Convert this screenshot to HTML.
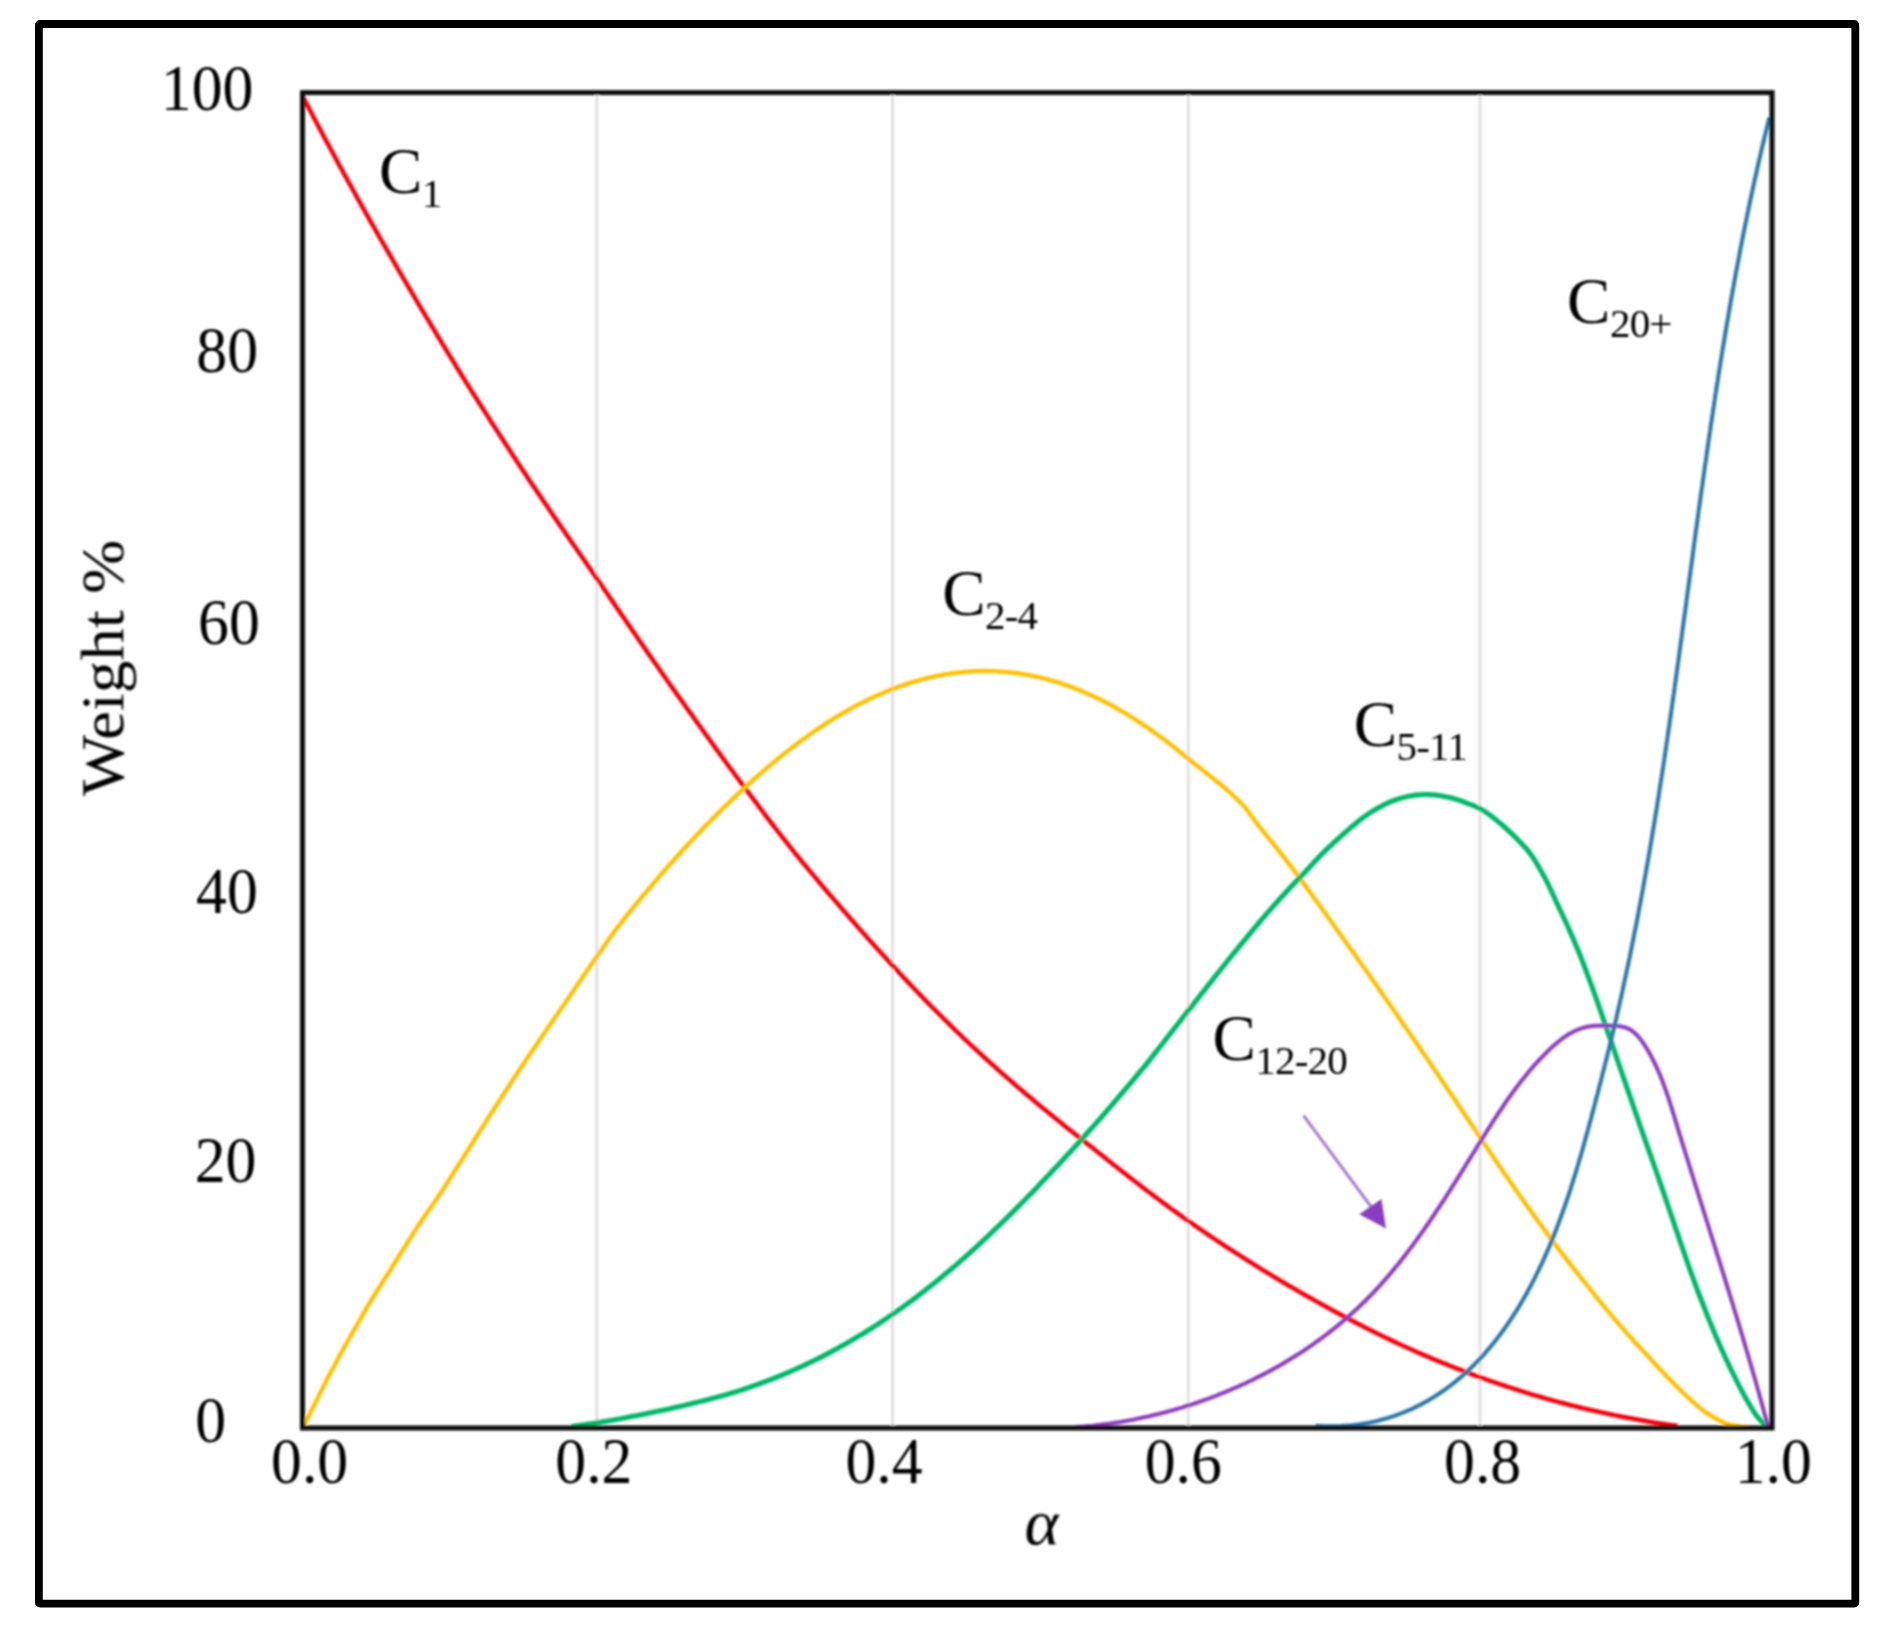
<!DOCTYPE html>
<html><head><meta charset="utf-8"><title>Weight % vs α</title>
<style>html,body{margin:0;padding:0;background:#fff}svg{display:block}</style></head>
<body>
<svg width="1891" height="1630" viewBox="0 0 1891 1630">
<defs><filter id="soft" x="0" y="0" width="1891" height="1630" filterUnits="userSpaceOnUse"><feGaussianBlur stdDeviation="0.8"/></filter></defs>
<rect x="0" y="0" width="1891" height="1630" fill="#fff"/>
<g filter="url(#soft)">
<line x1="596.8" y1="95" x2="596.8" y2="1426" stroke="#e0e0e0" stroke-width="3"/>
<line x1="892.6" y1="95" x2="892.6" y2="1426" stroke="#e0e0e0" stroke-width="3"/>
<line x1="1188.2" y1="95" x2="1188.2" y2="1426" stroke="#e0e0e0" stroke-width="3"/>
<line x1="1480.0" y1="95" x2="1480.0" y2="1426" stroke="#e0e0e0" stroke-width="3"/>
<path d="M302.5,96.0 L305.3,101.3 L308.0,106.5 L310.8,111.8 L313.5,117.0 L316.3,122.2 L319.0,127.4 L321.8,132.6 L324.5,137.8 L327.3,142.9 L330.1,148.0 L332.8,153.1 L335.6,158.2 L338.3,163.3 L341.1,168.3 L343.8,173.4 L346.6,178.4 L349.3,183.4 L352.1,188.4 L354.9,193.4 L357.6,198.4 L360.4,203.3 L363.1,208.2 L365.9,213.1 L368.6,218.0 L371.4,222.8 L374.1,227.7 L376.9,232.5 L379.7,237.3 L382.4,242.1 L385.2,246.9 L387.9,251.7 L390.7,256.4 L393.4,261.2 L396.2,265.9 L398.9,270.7 L401.7,275.4 L404.5,280.1 L407.2,284.8 L410.0,289.5 L412.7,294.1 L415.5,298.8 L418.2,303.5 L421.0,308.1 L423.7,312.7 L426.5,317.3 L429.3,321.9 L432.0,326.5 L434.8,331.1 L437.5,335.7 L440.3,340.2 L443.0,344.8 L445.8,349.3 L448.5,353.8 L451.3,358.3 L454.1,362.8 L456.8,367.3 L459.6,371.8 L462.3,376.2 L465.1,380.6 L467.8,385.0 L470.6,389.4 L473.3,393.8 L476.1,398.1 L478.9,402.5 L481.6,406.8 L484.4,411.1 L487.1,415.4 L489.9,419.7 L492.6,424.0 L495.4,428.3 L498.1,432.5 L500.9,436.8 L503.6,441.0 L506.4,445.2 L509.2,449.5 L511.9,453.7 L514.7,457.9 L517.4,462.1 L520.2,466.3 L522.9,470.4 L525.7,474.6 L528.4,478.7 L531.2,482.9 L534.0,487.0 L536.7,491.1 L539.5,495.1 L542.2,499.2 L545.0,503.3 L547.7,507.3 L550.5,511.3 L553.2,515.4 L556.0,519.4 L558.8,523.4 L561.5,527.4 L564.3,531.4 L567.0,535.4 L569.8,539.4 L572.5,543.4 L575.3,547.3 L578.0,551.3 L580.8,555.3 L583.6,559.3 L586.3,563.3 L589.1,567.3 L591.8,571.3 L594.6,575.3 L597.3,579.3 L600.1,583.3 L602.8,587.3 L605.6,591.3 L608.4,595.3 L611.1,599.4 L613.9,603.4 L616.6,607.4 L619.4,611.4 L622.1,615.4 L624.9,619.4 L627.6,623.4 L630.4,627.4 L633.2,631.5 L635.9,635.5 L638.7,639.4 L641.4,643.4 L644.2,647.4 L646.9,651.4 L649.7,655.4 L652.4,659.3 L655.2,663.3 L658.0,667.2 L660.7,671.2 L663.5,675.1 L666.2,679.0 L669.0,683.0 L671.7,686.9 L674.5,690.7 L677.2,694.6 L680.0,698.5 L682.8,702.4 L685.5,706.2 L688.3,710.1 L691.0,713.9 L693.8,717.8 L696.5,721.6 L699.3,725.5 L702.0,729.3 L704.8,733.1 L707.6,737.0 L710.3,740.8 L713.1,744.6 L715.8,748.4 L718.6,752.2 L721.3,756.0 L724.1,759.8 L726.8,763.5 L729.6,767.3 L732.4,771.0 L735.1,774.8 L737.9,778.5 L740.6,782.2 L743.4,785.8 L746.1,789.5 L748.9,793.2 L751.6,796.9 L754.4,800.5 L757.2,804.2 L759.9,807.8 L762.7,811.5 L765.4,815.1 L768.2,818.8 L770.9,822.4 L773.7,826.0 L776.4,829.5 L779.2,833.1 L782.0,836.6 L784.7,840.1 L787.5,843.6 L790.2,847.1 L793.0,850.5 L795.7,854.0 L798.5,857.3 L801.2,860.7 L804.0,864.0 L806.8,867.3 L809.5,870.6 L812.3,873.9 L815.0,877.2 L817.8,880.5 L820.5,883.7 L823.3,887.0 L826.0,890.2 L828.8,893.5 L831.6,896.7 L834.3,899.9 L837.1,903.1 L839.8,906.3 L842.6,909.5 L845.3,912.6 L848.1,915.8 L850.8,919.0 L853.6,922.1 L856.4,925.2 L859.1,928.4 L861.9,931.5 L864.6,934.6 L867.4,937.7 L870.1,940.8 L872.9,943.8 L875.6,946.9 L878.4,950.0 L881.2,953.0 L883.9,956.0 L886.7,959.1 L889.4,962.1 L892.2,965.1 L894.9,968.1 L897.7,971.1 L900.4,974.0 L903.2,977.0 L905.9,979.9 L908.7,982.9 L911.5,985.8 L914.2,988.7 L917.0,991.5 L919.7,994.4 L922.5,997.2 L925.2,1000.1 L928.0,1002.9 L930.7,1005.7 L933.5,1008.5 L936.3,1011.2 L939.0,1014.0 L941.8,1016.7 L944.5,1019.5 L947.3,1022.2 L950.0,1024.9 L952.8,1027.7 L955.5,1030.3 L958.3,1033.0 L961.1,1035.6 L963.8,1038.3 L966.6,1040.9 L969.3,1043.5 L972.1,1046.1 L974.8,1048.6 L977.6,1051.2 L980.3,1053.7 L983.1,1056.2 L985.9,1058.7 L988.6,1061.2 L991.4,1063.7 L994.1,1066.2 L996.9,1068.7 L999.6,1071.1 L1002.4,1073.6 L1005.1,1076.0 L1007.9,1078.4 L1010.7,1080.8 L1013.4,1083.2 L1016.2,1085.6 L1018.9,1088.0 L1021.7,1090.3 L1024.4,1092.7 L1027.2,1095.0 L1029.9,1097.3 L1032.7,1099.6 L1035.5,1101.9 L1038.2,1104.2 L1041.0,1106.5 L1043.7,1108.8 L1046.5,1111.1 L1049.2,1113.3 L1052.0,1115.6 L1054.7,1117.8 L1057.5,1120.1 L1060.3,1122.3 L1063.0,1124.5 L1065.8,1126.7 L1068.5,1128.9 L1071.3,1131.1 L1074.0,1133.3 L1076.8,1135.5 L1079.5,1137.6 L1082.3,1139.8 L1085.1,1142.0 L1087.8,1144.2 L1090.6,1146.3 L1093.3,1148.5 L1096.1,1150.7 L1098.8,1152.9 L1101.6,1155.1 L1104.3,1157.3 L1107.1,1159.5 L1109.9,1161.7 L1112.6,1163.9 L1115.4,1166.1 L1118.1,1168.3 L1120.9,1170.4 L1123.6,1172.6 L1126.4,1174.8 L1129.1,1176.9 L1131.9,1179.1 L1134.7,1181.2 L1137.4,1183.3 L1140.2,1185.4 L1142.9,1187.6 L1145.7,1189.7 L1148.4,1191.7 L1151.2,1193.8 L1153.9,1195.9 L1156.7,1198.0 L1159.5,1200.0 L1162.2,1202.1 L1165.0,1204.1 L1167.7,1206.1 L1170.5,1208.2 L1173.2,1210.2 L1176.0,1212.2 L1178.7,1214.1 L1181.5,1216.1 L1184.3,1218.1 L1187.0,1220.0 L1189.8,1222.0 L1192.5,1223.9 L1195.3,1225.8 L1198.0,1227.7 L1200.8,1229.6 L1203.5,1231.5 L1206.3,1233.4 L1209.1,1235.3 L1211.8,1237.1 L1214.6,1239.0 L1217.3,1240.8 L1220.1,1242.6 L1222.8,1244.5 L1225.6,1246.3 L1228.3,1248.1 L1231.1,1249.9 L1233.9,1251.7 L1236.6,1253.4 L1239.4,1255.2 L1242.1,1257.0 L1244.9,1258.7 L1247.6,1260.5 L1250.4,1262.2 L1253.1,1264.0 L1255.9,1265.7 L1258.7,1267.4 L1261.4,1269.1 L1264.2,1270.8 L1266.9,1272.5 L1269.7,1274.2 L1272.4,1275.9 L1275.2,1277.5 L1277.9,1279.2 L1280.7,1280.8 L1283.5,1282.5 L1286.2,1284.1 L1289.0,1285.7 L1291.7,1287.3 L1294.5,1288.9 L1297.2,1290.5 L1300.0,1292.1 L1302.7,1293.7 L1305.5,1295.2 L1308.2,1296.8 L1311.0,1298.3 L1313.8,1299.9 L1316.5,1301.4 L1319.3,1303.0 L1322.0,1304.5 L1324.8,1306.0 L1327.5,1307.5 L1330.3,1309.0 L1333.0,1310.5 L1335.8,1312.0 L1338.6,1313.5 L1341.3,1315.0 L1344.1,1316.5 L1346.8,1317.9 L1349.6,1319.4 L1352.3,1320.8 L1355.1,1322.3 L1357.8,1323.7 L1360.6,1325.1 L1363.4,1326.5 L1366.1,1327.9 L1368.9,1329.3 L1371.6,1330.7 L1374.4,1332.1 L1377.1,1333.5 L1379.9,1334.8 L1382.6,1336.2 L1385.4,1337.5 L1388.2,1338.8 L1390.9,1340.1 L1393.7,1341.4 L1396.4,1342.7 L1399.2,1344.0 L1401.9,1345.3 L1404.7,1346.5 L1407.4,1347.8 L1410.2,1349.0 L1413.0,1350.2 L1415.7,1351.5 L1418.5,1352.7 L1421.2,1353.9 L1424.0,1355.1 L1426.7,1356.2 L1429.5,1357.4 L1432.2,1358.6 L1435.0,1359.7 L1437.8,1360.9 L1440.5,1362.0 L1443.3,1363.1 L1446.0,1364.2 L1448.8,1365.3 L1451.5,1366.4 L1454.3,1367.5 L1457.0,1368.6 L1459.8,1369.7 L1462.6,1370.7 L1465.3,1371.8 L1468.1,1372.8 L1470.8,1373.8 L1473.6,1374.9 L1476.3,1375.9 L1479.1,1376.9 L1481.8,1377.9 L1484.6,1378.9 L1487.4,1379.8 L1490.1,1380.8 L1492.9,1381.8 L1495.6,1382.7 L1498.4,1383.7 L1501.1,1384.6 L1503.9,1385.5 L1506.6,1386.4 L1509.4,1387.3 L1512.2,1388.2 L1514.9,1389.1 L1517.7,1390.0 L1520.4,1390.9 L1523.2,1391.7 L1525.9,1392.6 L1528.7,1393.4 L1531.4,1394.3 L1534.2,1395.1 L1537.0,1395.9 L1539.7,1396.7 L1542.5,1397.5 L1545.2,1398.3 L1548.0,1399.1 L1550.7,1399.8 L1553.5,1400.6 L1556.2,1401.3 L1559.0,1402.1 L1561.8,1402.8 L1564.5,1403.5 L1567.3,1404.3 L1570.0,1405.0 L1572.8,1405.7 L1575.5,1406.3 L1578.3,1407.0 L1581.0,1407.7 L1583.8,1408.4 L1586.6,1409.0 L1589.3,1409.7 L1592.1,1410.3 L1594.8,1410.9 L1597.6,1411.5 L1600.3,1412.1 L1603.1,1412.8 L1605.8,1413.3 L1608.6,1413.9 L1611.4,1414.5 L1614.1,1415.1 L1616.9,1415.6 L1619.6,1416.2 L1622.4,1416.7 L1625.1,1417.2 L1627.9,1417.8 L1630.6,1418.3 L1633.4,1418.8 L1636.2,1419.3 L1638.9,1419.8 L1641.7,1420.3 L1644.4,1420.8 L1647.2,1421.3 L1649.9,1421.7 L1652.7,1422.2 L1655.4,1422.7 L1658.2,1423.1 L1661.0,1423.6 L1663.7,1424.0 L1666.5,1424.4 L1669.2,1424.8 L1672.0,1425.2 L1674.7,1425.6 L1677.5,1426.0" fill="none" stroke="#f5000a" stroke-width="4.5" stroke-linejoin="round" stroke-linecap="butt"/>
<path d="M302.5,1428.0 L305.4,1422.4 L308.3,1416.7 L311.2,1411.0 L314.1,1405.3 L317.0,1399.5 L319.9,1393.6 L322.8,1387.7 L325.7,1381.9 L328.6,1376.3 L331.5,1370.8 L334.4,1365.4 L337.3,1359.9 L340.2,1354.6 L343.1,1349.3 L346.0,1344.1 L348.9,1339.0 L351.8,1333.9 L354.7,1328.8 L357.6,1323.7 L360.5,1318.6 L363.4,1313.6 L366.3,1308.6 L369.2,1303.6 L372.1,1298.8 L375.0,1294.1 L377.9,1289.5 L380.8,1284.9 L383.7,1280.4 L386.6,1275.8 L389.5,1271.3 L392.4,1266.7 L395.3,1262.0 L398.2,1257.4 L401.1,1252.7 L404.0,1248.1 L406.9,1243.5 L409.8,1238.9 L412.7,1234.3 L415.6,1229.8 L418.5,1225.4 L421.4,1221.0 L424.3,1216.8 L427.2,1212.6 L430.1,1208.5 L433.0,1204.3 L435.9,1200.1 L438.8,1195.8 L441.7,1191.4 L444.6,1186.8 L447.5,1182.3 L450.4,1177.8 L453.3,1173.2 L456.2,1168.7 L459.1,1164.1 L462.0,1159.6 L464.9,1155.0 L467.8,1150.4 L470.7,1145.7 L473.6,1141.1 L476.5,1136.5 L479.4,1131.9 L482.3,1127.3 L485.2,1122.8 L488.1,1118.2 L491.0,1113.7 L493.9,1109.1 L496.8,1104.6 L499.7,1100.1 L502.6,1095.6 L505.5,1091.1 L508.4,1086.7 L511.3,1082.2 L514.2,1077.8 L517.1,1073.4 L520.0,1069.1 L522.9,1064.7 L525.8,1060.4 L528.7,1056.0 L531.6,1051.7 L534.5,1047.4 L537.4,1043.2 L540.3,1038.9 L543.2,1034.6 L546.1,1030.4 L549.0,1026.2 L551.9,1022.0 L554.8,1017.8 L557.7,1013.6 L560.6,1009.4 L563.5,1005.2 L566.4,1001.0 L569.3,996.7 L572.2,992.5 L575.1,988.2 L578.0,983.9 L580.9,979.6 L583.8,975.3 L586.7,971.1 L589.6,966.9 L592.5,962.7 L595.4,958.5 L598.3,954.4 L601.2,950.2 L604.1,946.1 L607.0,941.9 L609.9,937.8 L612.8,933.8 L615.7,929.8 L618.6,926.0 L621.5,922.3 L624.4,918.6 L627.3,914.9 L630.2,911.3 L633.1,907.7 L636.0,904.2 L638.9,900.7 L641.8,897.2 L644.7,893.7 L647.6,890.3 L650.5,886.8 L653.4,883.4 L656.3,880.1 L659.2,876.7 L662.1,873.4 L665.0,870.0 L667.9,866.7 L670.8,863.4 L673.7,860.2 L676.6,856.9 L679.5,853.7 L682.4,850.5 L685.3,847.3 L688.2,844.2 L691.1,841.1 L694.0,838.0 L696.9,834.9 L699.8,831.9 L702.7,828.8 L705.6,825.8 L708.5,822.9 L711.4,819.9 L714.3,817.0 L717.2,814.1 L720.1,811.2 L723.0,808.3 L725.9,805.5 L728.8,802.7 L731.7,799.9 L734.6,797.1 L737.5,794.4 L740.4,791.7 L743.3,788.9 L746.2,786.3 L749.1,783.6 L752.0,781.0 L754.9,778.4 L757.8,775.8 L760.7,773.3 L763.6,770.8 L766.5,768.3 L769.4,765.8 L772.3,763.4 L775.2,761.0 L778.1,758.6 L781.0,756.2 L783.9,753.9 L786.8,751.6 L789.7,749.4 L792.6,747.1 L795.5,744.9 L798.4,742.7 L801.3,740.6 L804.2,738.5 L807.1,736.4 L810.0,734.3 L812.9,732.3 L815.8,730.3 L818.7,728.4 L821.6,726.4 L824.5,724.5 L827.4,722.6 L830.3,720.8 L833.2,719.0 L836.1,717.2 L838.9,715.5 L841.8,713.8 L844.7,712.1 L847.6,710.4 L850.5,708.8 L853.4,707.2 L856.3,705.7 L859.2,704.1 L862.1,702.7 L865.0,701.2 L867.9,699.8 L870.8,698.4 L873.7,697.0 L876.6,695.7 L879.5,694.4 L882.4,693.2 L885.3,692.0 L888.2,690.8 L891.1,689.6 L894.0,688.5 L896.9,687.4 L899.8,686.4 L902.7,685.3 L905.6,684.4 L908.5,683.4 L911.4,682.5 L914.3,681.6 L917.2,680.8 L920.1,680.0 L923.0,679.2 L925.9,678.4 L928.8,677.7 L931.7,677.1 L934.6,676.4 L937.5,675.8 L940.4,675.3 L943.3,674.7 L946.2,674.2 L949.1,673.8 L952.0,673.3 L954.9,673.0 L957.8,672.6 L960.7,672.3 L963.6,672.0 L966.5,671.7 L969.4,671.5 L972.3,671.4 L975.2,671.2 L978.1,671.1 L981.0,671.0 L983.9,671.0 L986.8,671.0 L989.7,671.1 L992.6,671.1 L995.5,671.2 L998.4,671.4 L1001.3,671.6 L1004.2,671.8 L1007.1,672.0 L1010.0,672.3 L1012.9,672.7 L1015.8,673.0 L1018.7,673.4 L1021.6,673.9 L1024.5,674.3 L1027.4,674.8 L1030.3,675.4 L1033.2,676.0 L1036.1,676.6 L1039.0,677.2 L1041.9,677.9 L1044.8,678.7 L1047.7,679.4 L1050.6,680.2 L1053.5,681.1 L1056.4,681.9 L1059.3,682.8 L1062.2,683.8 L1065.1,684.8 L1068.0,685.8 L1070.9,686.9 L1073.8,687.9 L1076.7,689.1 L1079.6,690.2 L1082.5,691.4 L1085.4,692.7 L1088.3,693.9 L1091.2,695.3 L1094.1,696.6 L1097.0,698.0 L1099.9,699.4 L1102.8,700.8 L1105.7,702.3 L1108.6,703.9 L1111.5,705.4 L1114.4,707.0 L1117.3,708.6 L1120.2,710.3 L1123.1,712.0 L1126.0,713.7 L1128.9,715.5 L1131.8,717.3 L1134.7,719.1 L1137.6,721.0 L1140.5,722.9 L1143.4,724.8 L1146.3,726.8 L1149.2,728.8 L1152.1,730.8 L1155.0,732.9 L1157.9,735.0 L1160.8,737.1 L1163.7,739.2 L1166.6,741.4 L1169.5,743.7 L1172.4,745.9 L1175.3,748.2 L1178.2,750.5 L1181.1,752.9 L1184.0,755.3 L1186.9,757.7 L1189.8,760.0 L1192.7,762.3 L1195.6,764.5 L1198.5,766.8 L1201.4,769.1 L1204.3,771.4 L1207.2,773.7 L1210.1,776.1 L1213.0,778.4 L1215.9,780.7 L1218.8,783.0 L1221.7,785.4 L1224.6,787.8 L1227.5,790.3 L1230.4,793.0 L1233.3,795.7 L1236.2,798.4 L1239.1,801.2 L1242.0,804.1 L1244.9,807.2 L1247.8,810.9 L1250.7,815.0 L1253.6,819.1 L1256.5,822.9 L1259.4,826.6 L1262.3,830.2 L1265.2,833.8 L1268.1,837.4 L1271.0,841.0 L1273.9,844.6 L1276.8,848.3 L1279.7,851.9 L1282.6,855.6 L1285.5,859.3 L1288.4,863.1 L1291.3,866.9 L1294.2,870.8 L1297.1,874.7 L1300.0,878.6 L1302.9,882.5 L1305.8,886.4 L1308.7,890.4 L1311.6,894.4 L1314.5,898.4 L1317.4,902.5 L1320.3,906.5 L1323.2,910.5 L1326.1,914.5 L1329.0,918.6 L1331.9,922.7 L1334.8,926.7 L1337.7,930.8 L1340.6,934.9 L1343.5,938.9 L1346.4,942.9 L1349.3,947.0 L1352.2,951.0 L1355.1,955.1 L1358.0,959.2 L1360.9,963.2 L1363.8,967.4 L1366.7,971.5 L1369.6,975.6 L1372.5,979.7 L1375.4,983.9 L1378.3,988.0 L1381.2,992.2 L1384.1,996.4 L1387.0,1000.5 L1389.9,1004.7 L1392.8,1008.9 L1395.7,1013.1 L1398.6,1017.3 L1401.5,1021.5 L1404.4,1025.7 L1407.3,1029.9 L1410.2,1034.1 L1413.1,1038.3 L1416.0,1042.5 L1418.9,1046.7 L1421.8,1051.0 L1424.7,1055.2 L1427.6,1059.4 L1430.5,1063.7 L1433.4,1067.9 L1436.3,1072.2 L1439.2,1076.5 L1442.1,1080.8 L1445.0,1085.1 L1447.9,1089.4 L1450.8,1093.7 L1453.7,1098.0 L1456.6,1102.3 L1459.5,1106.6 L1462.4,1111.0 L1465.3,1115.3 L1468.2,1119.6 L1471.1,1124.0 L1474.0,1128.3 L1476.9,1132.6 L1479.8,1137.0 L1482.7,1141.3 L1485.6,1145.6 L1488.5,1149.9 L1491.4,1154.2 L1494.3,1158.5 L1497.2,1162.8 L1500.1,1167.1 L1503.0,1171.3 L1505.9,1175.6 L1508.8,1179.8 L1511.7,1184.0 L1514.6,1188.2 L1517.5,1192.4 L1520.4,1196.5 L1523.3,1200.6 L1526.2,1204.7 L1529.1,1208.7 L1532.0,1212.7 L1534.9,1216.8 L1537.8,1220.8 L1540.7,1224.7 L1543.6,1228.7 L1546.5,1232.6 L1549.4,1236.6 L1552.3,1240.5 L1555.2,1244.4 L1558.1,1248.2 L1561.0,1252.1 L1563.9,1255.8 L1566.8,1259.6 L1569.7,1263.3 L1572.6,1267.1 L1575.5,1270.7 L1578.4,1274.4 L1581.3,1278.1 L1584.2,1281.7 L1587.1,1285.4 L1590.0,1289.0 L1592.9,1292.6 L1595.8,1296.3 L1598.7,1299.9 L1601.6,1303.4 L1604.5,1307.0 L1607.4,1310.5 L1610.3,1314.0 L1613.2,1317.4 L1616.1,1320.8 L1619.0,1324.2 L1621.9,1327.5 L1624.8,1330.8 L1627.7,1334.1 L1630.6,1337.3 L1633.5,1340.5 L1636.4,1343.7 L1639.3,1346.8 L1642.2,1349.9 L1645.1,1353.1 L1648.0,1356.2 L1650.9,1359.4 L1653.8,1362.6 L1656.7,1365.7 L1659.6,1368.8 L1662.5,1371.9 L1665.4,1374.9 L1668.3,1377.9 L1671.2,1380.8 L1674.1,1383.8 L1677.0,1386.7 L1679.9,1389.6 L1682.8,1392.5 L1685.7,1395.3 L1688.6,1398.0 L1691.5,1400.6 L1694.4,1403.1 L1697.3,1405.6 L1700.2,1408.1 L1703.1,1410.4 L1706.0,1412.5 L1708.9,1414.4 L1711.8,1416.2 L1714.7,1417.8 L1717.6,1419.4 L1720.5,1420.9 L1723.4,1422.3 L1726.3,1423.6 L1729.2,1424.4 L1732.1,1425.0 L1735.0,1425.5 L1737.9,1426.0 L1740.8,1426.5 L1743.7,1427.0 L1746.6,1427.5 L1749.5,1427.9" fill="none" stroke="#ffc000" stroke-width="4.3" stroke-linejoin="round" stroke-linecap="butt"/>
<path d="M571.3,1426.6 L573.7,1426.3 L576.1,1425.9 L578.5,1425.6 L580.9,1425.2 L583.4,1424.9 L585.8,1424.5 L588.2,1424.1 L590.6,1423.8 L593.0,1423.4 L595.4,1423.0 L597.8,1422.6 L600.2,1422.2 L602.6,1421.8 L605.0,1421.4 L607.4,1421.0 L609.8,1420.6 L612.2,1420.2 L614.6,1419.8 L617.0,1419.3 L619.4,1418.9 L621.8,1418.4 L624.2,1418.0 L626.6,1417.5 L629.1,1417.1 L631.5,1416.6 L633.9,1416.1 L636.3,1415.7 L638.7,1415.2 L641.1,1414.7 L643.5,1414.2 L645.9,1413.8 L648.3,1413.3 L650.7,1412.8 L653.1,1412.3 L655.5,1411.8 L657.9,1411.3 L660.3,1410.8 L662.7,1410.3 L665.1,1409.8 L667.5,1409.2 L669.9,1408.7 L672.3,1408.1 L674.7,1407.6 L677.2,1407.0 L679.6,1406.5 L682.0,1405.9 L684.4,1405.4 L686.8,1404.8 L689.2,1404.2 L691.6,1403.6 L694.0,1403.1 L696.4,1402.5 L698.8,1401.9 L701.2,1401.3 L703.6,1400.7 L706.0,1400.1 L708.4,1399.5 L710.8,1398.8 L713.2,1398.2 L715.6,1397.6 L718.0,1396.9 L720.4,1396.3 L722.9,1395.6 L725.3,1394.9 L727.7,1394.2 L730.1,1393.5 L732.5,1392.8 L734.9,1392.1 L737.3,1391.3 L739.7,1390.6 L742.1,1389.8 L744.5,1389.0 L746.9,1388.2 L749.3,1387.4 L751.7,1386.5 L754.1,1385.7 L756.5,1384.8 L758.9,1384.0 L761.3,1383.1 L763.7,1382.2 L766.1,1381.3 L768.5,1380.4 L771.0,1379.5 L773.4,1378.5 L775.8,1377.6 L778.2,1376.6 L780.6,1375.6 L783.0,1374.6 L785.4,1373.6 L787.8,1372.6 L790.2,1371.6 L792.6,1370.5 L795.0,1369.5 L797.4,1368.4 L799.8,1367.3 L802.2,1366.2 L804.6,1365.1 L807.0,1363.9 L809.4,1362.8 L811.8,1361.6 L814.2,1360.5 L816.7,1359.3 L819.1,1358.1 L821.5,1356.9 L823.9,1355.6 L826.3,1354.4 L828.7,1353.1 L831.1,1351.9 L833.5,1350.6 L835.9,1349.3 L838.3,1347.9 L840.7,1346.6 L843.1,1345.3 L845.5,1343.9 L847.9,1342.5 L850.3,1341.1 L852.7,1339.7 L855.1,1338.3 L857.5,1336.9 L859.9,1335.4 L862.4,1334.0 L864.8,1332.5 L867.2,1331.0 L869.6,1329.5 L872.0,1328.0 L874.4,1326.4 L876.8,1324.9 L879.2,1323.3 L881.6,1321.7 L884.0,1320.1 L886.4,1318.5 L888.8,1316.9 L891.2,1315.2 L893.6,1313.6 L896.0,1311.9 L898.4,1310.2 L900.8,1308.5 L903.2,1306.8 L905.6,1305.0 L908.0,1303.3 L910.5,1301.5 L912.9,1299.7 L915.3,1297.9 L917.7,1296.1 L920.1,1294.2 L922.5,1292.4 L924.9,1290.5 L927.3,1288.6 L929.7,1286.7 L932.1,1284.8 L934.5,1282.9 L936.9,1281.0 L939.3,1279.0 L941.7,1277.0 L944.1,1275.0 L946.5,1273.0 L948.9,1271.0 L951.3,1269.0 L953.7,1266.9 L956.2,1264.9 L958.6,1262.8 L961.0,1260.7 L963.4,1258.6 L965.8,1256.4 L968.2,1254.3 L970.6,1252.1 L973.0,1250.0 L975.4,1247.8 L977.8,1245.6 L980.2,1243.3 L982.6,1241.1 L985.0,1238.9 L987.4,1236.6 L989.8,1234.3 L992.2,1232.0 L994.6,1229.7 L997.0,1227.4 L999.4,1225.1 L1001.8,1222.7 L1004.3,1220.4 L1006.7,1218.0 L1009.1,1215.6 L1011.5,1213.3 L1013.9,1210.9 L1016.3,1208.5 L1018.7,1206.1 L1021.1,1203.6 L1023.5,1201.2 L1025.9,1198.8 L1028.3,1196.3 L1030.7,1193.9 L1033.1,1191.4 L1035.5,1188.9 L1037.9,1186.4 L1040.3,1183.8 L1042.7,1181.3 L1045.1,1178.8 L1047.5,1176.2 L1050.0,1173.7 L1052.4,1171.1 L1054.8,1168.5 L1057.2,1166.0 L1059.6,1163.4 L1062.0,1160.8 L1064.4,1158.2 L1066.8,1155.6 L1069.2,1153.0 L1071.6,1150.4 L1074.0,1147.8 L1076.4,1145.2 L1078.8,1142.5 L1081.2,1139.9 L1083.6,1137.2 L1086.0,1134.5 L1088.4,1131.8 L1090.8,1129.1 L1093.2,1126.4 L1095.7,1123.7 L1098.1,1120.9 L1100.5,1118.2 L1102.9,1115.4 L1105.3,1112.6 L1107.7,1109.8 L1110.1,1107.1 L1112.5,1104.3 L1114.9,1101.4 L1117.3,1098.6 L1119.7,1095.8 L1122.1,1093.0 L1124.5,1090.2 L1126.9,1087.4 L1129.3,1084.6 L1131.7,1081.8 L1134.1,1078.9 L1136.5,1076.0 L1138.9,1073.2 L1141.3,1070.2 L1143.8,1067.3 L1146.2,1064.3 L1148.6,1061.3 L1151.0,1058.2 L1153.4,1055.2 L1155.8,1052.1 L1158.2,1049.1 L1160.6,1046.0 L1163.0,1043.0 L1165.4,1039.9 L1167.8,1036.8 L1170.2,1033.7 L1172.6,1030.7 L1175.0,1027.6 L1177.4,1024.5 L1179.8,1021.5 L1182.2,1018.4 L1184.6,1015.3 L1187.0,1012.2 L1189.5,1009.2 L1191.9,1006.1 L1194.3,1003.0 L1196.7,999.9 L1199.1,996.9 L1201.5,993.8 L1203.9,990.8 L1206.3,987.7 L1208.7,984.7 L1211.1,981.6 L1213.5,978.6 L1215.9,975.5 L1218.3,972.5 L1220.7,969.5 L1223.1,966.5 L1225.5,963.5 L1227.9,960.5 L1230.3,957.5 L1232.7,954.5 L1235.2,951.5 L1237.6,948.6 L1240.0,945.6 L1242.4,942.7 L1244.8,939.8 L1247.2,936.9 L1249.6,934.0 L1252.0,931.1 L1254.4,928.2 L1256.8,925.4 L1259.2,922.5 L1261.6,919.7 L1264.0,916.9 L1266.4,914.1 L1268.8,911.4 L1271.2,908.6 L1273.6,905.9 L1276.0,903.2 L1278.4,900.5 L1280.8,897.8 L1283.3,895.2 L1285.7,892.5 L1288.1,889.9 L1290.5,887.3 L1292.9,884.8 L1295.3,882.3 L1297.7,879.8 L1300.1,877.3 L1302.5,874.8 L1304.9,872.3 L1307.3,869.7 L1309.7,867.1 L1312.1,864.5 L1314.5,861.8 L1316.9,859.3 L1319.3,856.8 L1321.7,854.3 L1324.1,851.9 L1326.5,849.6 L1329.0,847.2 L1331.4,845.0 L1333.8,842.7 L1336.2,840.5 L1338.6,838.3 L1341.0,836.1 L1343.4,834.0 L1345.8,831.9 L1348.2,829.8 L1350.6,827.7 L1353.0,825.7 L1355.4,823.7 L1357.8,821.7 L1360.2,819.8 L1362.6,818.0 L1365.0,816.2 L1367.4,814.6 L1369.8,813.0 L1372.2,811.4 L1374.6,810.0 L1377.1,808.5 L1379.5,807.2 L1381.9,805.9 L1384.3,804.6 L1386.7,803.5 L1389.1,802.4 L1391.5,801.4 L1393.9,800.5 L1396.3,799.6 L1398.7,798.8 L1401.1,798.1 L1403.5,797.4 L1405.9,796.9 L1408.3,796.3 L1410.7,795.9 L1413.1,795.5 L1415.5,795.1 L1417.9,794.9 L1420.3,794.7 L1422.8,794.5 L1425.2,794.5 L1427.6,794.5 L1430.0,794.6 L1432.4,794.7 L1434.8,794.9 L1437.2,795.2 L1439.6,795.5 L1442.0,795.9 L1444.4,796.4 L1446.8,796.9 L1449.2,797.4 L1451.6,798.0 L1454.0,798.7 L1456.4,799.4 L1458.8,800.2 L1461.2,801.0 L1463.6,801.9 L1466.0,802.9 L1468.5,803.8 L1470.9,804.6 L1473.3,805.5 L1475.7,806.5 L1478.1,807.7 L1480.5,808.9 L1482.9,810.4 L1485.3,811.9 L1487.7,813.5 L1490.1,815.2 L1492.5,817.0 L1494.9,818.9 L1497.3,820.9 L1499.7,822.9 L1502.1,824.9 L1504.5,827.0 L1506.9,829.1 L1509.3,831.3 L1511.7,833.6 L1514.1,835.9 L1516.6,838.4 L1519.0,840.9 L1521.4,843.5 L1523.8,846.0 L1526.2,848.6 L1528.6,851.5 L1531.0,854.6 L1533.4,858.1 L1535.8,862.0 L1538.2,866.0 L1540.6,870.2 L1543.0,874.5 L1545.4,878.9 L1547.8,883.5 L1550.2,888.5 L1552.6,893.7 L1555.0,899.0 L1557.4,904.2 L1559.8,909.4 L1562.3,914.5 L1564.7,919.7 L1567.1,925.0 L1569.5,930.3 L1571.9,935.7 L1574.3,941.3 L1576.7,947.0 L1579.1,952.8 L1581.5,958.9 L1583.9,965.0 L1586.3,971.4 L1588.7,977.8 L1591.1,984.3 L1593.5,990.9 L1595.9,997.6 L1598.3,1004.4 L1600.7,1011.3 L1603.1,1018.3 L1605.5,1025.3 L1607.9,1032.3 L1610.4,1039.2 L1612.8,1046.3 L1615.2,1053.3 L1617.6,1060.4 L1620.0,1067.5 L1622.4,1074.5 L1624.8,1081.4 L1627.2,1088.3 L1629.6,1095.2 L1632.0,1102.1 L1634.4,1109.1 L1636.8,1116.1 L1639.2,1123.1 L1641.6,1130.0 L1644.0,1136.8 L1646.4,1143.6 L1648.8,1150.4 L1651.2,1157.2 L1653.6,1164.0 L1656.1,1171.0 L1658.5,1177.9 L1660.9,1184.9 L1663.3,1191.9 L1665.7,1198.9 L1668.1,1206.0 L1670.5,1213.0 L1672.9,1220.1 L1675.3,1227.2 L1677.7,1234.2 L1680.1,1241.3 L1682.5,1248.2 L1684.9,1255.2 L1687.3,1262.1 L1689.7,1268.8 L1692.1,1275.5 L1694.5,1282.1 L1696.9,1288.6 L1699.3,1295.0 L1701.8,1301.3 L1704.2,1307.5 L1706.6,1313.6 L1709.0,1319.6 L1711.4,1325.5 L1713.8,1331.2 L1716.2,1336.9 L1718.6,1342.5 L1721.0,1348.0 L1723.4,1353.3 L1725.8,1358.5 L1728.2,1363.6 L1730.6,1368.6 L1733.0,1373.4 L1735.4,1378.3 L1737.8,1383.1 L1740.2,1387.9 L1742.6,1392.5 L1745.0,1396.8 L1747.4,1401.1 L1749.9,1405.3 L1752.3,1409.3 L1754.7,1413.1 L1757.1,1416.4 L1759.5,1419.3 L1761.9,1421.8 L1764.3,1424.0 L1766.7,1425.7 L1769.1,1427.1 L1771.5,1428.0" fill="none" stroke="#00b86b" stroke-width="5.1" stroke-linejoin="round" stroke-linecap="butt"/>
<path d="M1075.2,1427.2 L1078.0,1427.0 L1080.9,1426.8 L1083.7,1426.6 L1086.5,1426.3 L1089.3,1426.0 L1092.1,1425.8 L1094.9,1425.5 L1097.7,1425.1 L1100.5,1424.8 L1103.4,1424.4 L1106.2,1424.1 L1109.0,1423.7 L1111.8,1423.3 L1114.6,1422.8 L1117.4,1422.4 L1120.3,1421.9 L1123.1,1421.4 L1125.9,1421.0 L1128.7,1420.4 L1131.5,1419.9 L1134.3,1419.4 L1137.1,1418.8 L1139.9,1418.2 L1142.7,1417.6 L1145.5,1417.0 L1148.3,1416.4 L1151.1,1415.7 L1153.9,1415.1 L1156.7,1414.4 L1159.5,1413.7 L1162.3,1413.0 L1165.1,1412.3 L1167.8,1411.5 L1170.6,1410.8 L1173.4,1410.0 L1176.2,1409.2 L1178.9,1408.4 L1181.7,1407.6 L1184.4,1406.7 L1187.2,1405.8 L1189.9,1405.0 L1192.7,1404.1 L1195.4,1403.2 L1198.2,1402.2 L1200.9,1401.3 L1203.6,1400.3 L1206.3,1399.4 L1209.1,1398.4 L1211.8,1397.4 L1214.5,1396.3 L1217.2,1395.3 L1219.8,1394.2 L1222.5,1393.2 L1225.2,1392.1 L1227.9,1391.0 L1230.5,1389.8 L1233.2,1388.7 L1235.8,1387.6 L1238.5,1386.4 L1241.1,1385.2 L1243.8,1384.0 L1246.4,1382.8 L1249.0,1381.5 L1251.6,1380.3 L1254.2,1379.0 L1256.8,1377.7 L1259.4,1376.4 L1261.9,1375.1 L1264.5,1373.8 L1267.0,1372.5 L1269.6,1371.1 L1272.1,1369.7 L1274.6,1368.3 L1277.2,1366.9 L1279.7,1365.5 L1282.2,1364.0 L1284.7,1362.6 L1287.1,1361.1 L1289.6,1359.6 L1292.1,1358.1 L1294.5,1356.6 L1296.9,1355.1 L1299.4,1353.5 L1301.8,1351.9 L1304.2,1350.4 L1306.6,1348.8 L1308.9,1347.1 L1311.3,1345.5 L1313.7,1343.9 L1316.0,1342.2 L1318.3,1340.5 L1320.7,1338.8 L1323.0,1337.1 L1325.3,1335.4 L1327.6,1333.7 L1329.8,1331.9 L1332.1,1330.1 L1334.3,1328.4 L1336.6,1326.6 L1338.8,1324.7 L1341.0,1322.9 L1343.2,1321.1 L1345.3,1319.2 L1347.5,1317.3 L1349.7,1315.4 L1351.8,1313.5 L1353.9,1311.6 L1356.0,1309.7 L1358.1,1307.7 L1360.2,1305.8 L1362.2,1303.8 L1364.3,1301.8 L1366.3,1299.8 L1368.3,1297.7 L1370.3,1295.7 L1372.3,1293.6 L1374.3,1291.6 L1376.2,1289.5 L1378.2,1287.4 L1380.1,1285.3 L1382.0,1283.1 L1383.9,1281.0 L1385.8,1278.9 L1387.7,1276.7 L1389.5,1274.5 L1391.4,1272.3 L1393.2,1270.1 L1395.0,1267.9 L1396.9,1265.7 L1398.7,1263.5 L1400.5,1261.2 L1402.2,1259.0 L1404.0,1256.7 L1405.8,1254.4 L1407.5,1252.2 L1409.2,1249.9 L1411.0,1247.6 L1412.7,1245.3 L1414.4,1242.9 L1416.1,1240.6 L1417.8,1238.3 L1419.5,1235.9 L1421.1,1233.6 L1422.8,1231.2 L1424.5,1228.9 L1426.1,1226.5 L1427.7,1224.1 L1429.4,1221.7 L1431.0,1219.4 L1432.6,1217.0 L1434.2,1214.6 L1435.8,1212.2 L1437.4,1209.7 L1439.0,1207.3 L1440.6,1204.9 L1442.2,1202.5 L1443.8,1200.1 L1445.4,1197.6 L1446.9,1195.2 L1448.5,1192.8 L1450.0,1190.3 L1451.6,1187.9 L1453.1,1185.4 L1454.7,1183.0 L1456.2,1180.5 L1457.8,1178.1 L1459.3,1175.6 L1460.8,1173.2 L1462.4,1170.7 L1463.9,1168.3 L1465.4,1165.8 L1466.9,1163.3 L1468.5,1160.9 L1470.0,1158.4 L1471.5,1156.0 L1473.0,1153.5 L1474.6,1151.1 L1476.1,1148.6 L1477.6,1146.2 L1479.1,1143.7 L1480.6,1141.3 L1482.1,1138.8 L1483.7,1136.4 L1485.2,1134.0 L1486.7,1131.5 L1488.2,1129.1 L1489.8,1126.7 L1491.3,1124.2 L1492.8,1121.8 L1494.4,1119.4 L1495.9,1117.0 L1497.5,1114.6 L1499.1,1112.2 L1500.7,1109.8 L1502.3,1107.5 L1503.9,1105.1 L1505.5,1102.7 L1507.1,1100.4 L1508.7,1098.0 L1510.4,1095.7 L1512.0,1093.4 L1513.7,1091.1 L1515.4,1088.8 L1517.1,1086.5 L1518.9,1084.2 L1520.6,1081.9 L1522.4,1079.7 L1524.2,1077.4 L1526.0,1075.2 L1527.8,1073.0 L1529.6,1070.8 L1531.5,1068.6 L1533.4,1066.4 L1535.3,1064.2 L1537.3,1062.1 L1539.2,1060.0 L1541.2,1057.9 L1543.3,1055.8 L1545.3,1053.7 L1547.4,1051.6 L1549.5,1049.6 L1551.6,1047.6 L1553.8,1045.6 L1556.0,1043.7 L1558.2,1041.8 L1560.5,1040.0 L1562.8,1038.2 L1565.1,1036.6 L1567.5,1035.0 L1570.0,1033.5 L1572.4,1032.2 L1574.9,1030.9 L1577.5,1029.8 L1580.1,1028.8 L1582.7,1027.9 L1585.4,1027.2 L1588.2,1026.6 L1591.0,1026.2 L1593.8,1025.9 L1596.7,1025.7 L1599.6,1025.6 L1602.5,1025.5 L1605.4,1025.6 L1608.4,1025.6 L1611.4,1025.7 L1614.4,1025.8 L1617.3,1026.0 L1620.2,1026.3 L1623.0,1026.9 L1625.7,1027.6 L1628.2,1028.6 L1630.6,1029.9 L1632.9,1031.5 L1635.0,1033.2 L1637.0,1035.2 L1638.9,1037.3 L1640.7,1039.5 L1642.4,1041.9 L1644.1,1044.3 L1645.7,1046.8 L1647.2,1049.3 L1648.7,1051.8 L1650.1,1054.3 L1651.5,1056.9 L1652.8,1059.5 L1654.1,1062.0 L1655.4,1064.6 L1656.6,1067.3 L1657.8,1069.9 L1658.9,1072.5 L1660.1,1075.2 L1661.1,1077.8 L1662.2,1080.5 L1663.2,1083.2 L1664.2,1085.9 L1665.2,1088.6 L1666.1,1091.3 L1667.1,1094.0 L1668.0,1096.7 L1668.9,1099.4 L1669.8,1102.2 L1670.6,1104.9 L1671.5,1107.6 L1672.4,1110.4 L1673.2,1113.1 L1674.1,1115.9 L1674.9,1118.6 L1675.7,1121.4 L1676.6,1124.1 L1677.4,1126.9 L1678.2,1129.6 L1679.1,1132.4 L1679.9,1135.1 L1680.8,1137.9 L1681.6,1140.6 L1682.5,1143.4 L1683.3,1146.1 L1684.2,1148.8 L1685.0,1151.6 L1685.9,1154.3 L1686.7,1157.1 L1687.6,1159.8 L1688.4,1162.6 L1689.3,1165.3 L1690.1,1168.0 L1691.0,1170.8 L1691.9,1173.5 L1692.7,1176.3 L1693.6,1179.0 L1694.4,1181.8 L1695.3,1184.5 L1696.1,1187.2 L1697.0,1190.0 L1697.9,1192.7 L1698.7,1195.5 L1699.6,1198.2 L1700.5,1200.9 L1701.3,1203.7 L1702.2,1206.4 L1703.0,1209.2 L1703.9,1211.9 L1704.8,1214.6 L1705.6,1217.4 L1706.5,1220.1 L1707.4,1222.9 L1708.2,1225.6 L1709.1,1228.3 L1709.9,1231.1 L1710.8,1233.8 L1711.7,1236.6 L1712.5,1239.3 L1713.4,1242.0 L1714.2,1244.8 L1715.1,1247.5 L1716.0,1250.3 L1716.8,1253.0 L1717.7,1255.8 L1718.5,1258.5 L1719.4,1261.2 L1720.3,1264.0 L1721.1,1266.7 L1722.0,1269.5 L1722.8,1272.2 L1723.7,1274.9 L1724.5,1277.7 L1725.4,1280.4 L1726.2,1283.2 L1727.1,1285.9 L1727.9,1288.7 L1728.8,1291.4 L1729.6,1294.2 L1730.5,1296.9 L1731.3,1299.6 L1732.2,1302.4 L1733.0,1305.1 L1733.8,1307.9 L1734.7,1310.6 L1735.5,1313.4 L1736.4,1316.1 L1737.2,1318.9 L1738.0,1321.6 L1738.9,1324.4 L1739.7,1327.1 L1740.5,1329.9 L1741.3,1332.6 L1742.2,1335.4 L1743.0,1338.1 L1743.8,1340.9 L1744.6,1343.6 L1745.4,1346.4 L1746.2,1349.1 L1747.1,1351.9 L1747.9,1354.7 L1748.7,1357.4 L1749.5,1360.2 L1750.3,1362.9 L1751.1,1365.7 L1751.9,1368.4 L1752.7,1371.2 L1753.5,1374.0 L1754.3,1376.7 L1755.1,1379.5 L1755.9,1382.2 L1756.6,1385.0 L1757.4,1387.8 L1758.2,1390.5 L1759.0,1393.3 L1759.7,1396.1 L1760.5,1398.8 L1761.3,1401.6 L1762.1,1404.4 L1762.8,1407.2 L1763.6,1409.9 L1764.3,1412.7 L1765.1,1415.5 L1765.8,1418.2 L1766.6,1421.0 L1767.3,1423.8 L1768.1,1426.6" fill="none" stroke="#8c3fbe" stroke-width="4.1" stroke-linejoin="round" stroke-linecap="butt"/>
<path d="M1315.5,1425.8 L1319.8,1426.0 L1323.9,1426.2 L1328.1,1426.3 L1332.2,1426.3 L1336.3,1426.2 L1340.3,1426.1 L1344.3,1425.8 L1348.3,1425.5 L1352.2,1425.2 L1356.1,1424.7 L1359.9,1424.2 L1363.7,1423.6 L1367.5,1422.9 L1371.2,1422.2 L1374.9,1421.4 L1378.6,1420.5 L1382.2,1419.6 L1385.8,1418.6 L1389.3,1417.5 L1392.8,1416.4 L1396.3,1415.2 L1399.7,1413.9 L1403.1,1412.6 L1406.5,1411.2 L1409.8,1409.8 L1413.1,1408.3 L1416.4,1406.7 L1419.6,1405.1 L1422.8,1403.4 L1425.9,1401.7 L1429.0,1399.9 L1432.1,1398.1 L1435.1,1396.2 L1438.1,1394.3 L1441.1,1392.3 L1444.0,1390.3 L1446.9,1388.2 L1449.8,1386.1 L1452.6,1383.9 L1455.4,1381.7 L1458.1,1379.4 L1460.9,1377.1 L1463.5,1374.8 L1466.2,1372.4 L1468.8,1370.0 L1471.4,1367.5 L1473.9,1365.0 L1476.4,1362.5 L1478.9,1359.9 L1481.3,1357.3 L1483.8,1354.6 L1486.1,1351.9 L1488.5,1349.2 L1490.8,1346.4 L1493.1,1343.6 L1495.3,1340.8 L1497.5,1338.0 L1499.7,1335.1 L1501.9,1332.2 L1504.0,1329.3 L1506.1,1326.3 L1508.2,1323.3 L1510.2,1320.3 L1512.2,1317.2 L1514.2,1314.2 L1516.2,1311.1 L1518.1,1308.0 L1520.0,1304.9 L1521.8,1301.7 L1523.7,1298.5 L1525.5,1295.4 L1527.3,1292.2 L1529.0,1288.9 L1530.8,1285.7 L1532.5,1282.4 L1534.2,1279.2 L1535.8,1275.9 L1537.4,1272.6 L1539.0,1269.3 L1540.6,1266.0 L1542.2,1262.6 L1543.7,1259.3 L1545.2,1255.9 L1546.7,1252.6 L1548.2,1249.2 L1549.6,1245.8 L1551.0,1242.4 L1552.4,1239.0 L1553.8,1235.6 L1555.2,1232.1 L1556.5,1228.7 L1557.8,1225.2 L1559.1,1221.8 L1560.4,1218.3 L1561.7,1214.8 L1562.9,1211.3 L1564.2,1207.9 L1565.4,1204.4 L1566.6,1200.9 L1567.8,1197.3 L1568.9,1193.8 L1570.1,1190.3 L1571.2,1186.8 L1572.4,1183.2 L1573.5,1179.7 L1574.6,1176.1 L1575.7,1172.6 L1576.7,1169.0 L1577.8,1165.5 L1578.9,1161.9 L1579.9,1158.4 L1581.0,1154.8 L1582.0,1151.2 L1583.0,1147.7 L1584.0,1144.1 L1585.0,1140.5 L1586.0,1136.9 L1587.0,1133.3 L1588.0,1129.8 L1588.9,1126.2 L1589.9,1122.6 L1590.9,1119.0 L1591.8,1115.4 L1592.8,1111.9 L1593.7,1108.3 L1594.7,1104.7 L1595.6,1101.1 L1596.5,1097.5 L1597.5,1094.0 L1598.4,1090.4 L1599.3,1086.8 L1600.3,1083.3 L1601.2,1079.7 L1602.1,1076.1 L1603.0,1072.5 L1603.9,1069.0 L1604.8,1065.4 L1605.7,1061.8 L1606.6,1058.3 L1607.5,1054.7 L1608.4,1051.1 L1609.2,1047.6 L1610.1,1044.0 L1611.0,1040.4 L1611.8,1036.9 L1612.7,1033.3 L1613.5,1029.7 L1614.4,1026.1 L1615.2,1022.6 L1616.1,1019.0 L1616.9,1015.4 L1617.7,1011.8 L1618.5,1008.3 L1619.4,1004.7 L1620.2,1001.1 L1621.0,997.5 L1621.8,994.0 L1622.6,990.4 L1623.3,986.8 L1624.1,983.2 L1624.9,979.6 L1625.7,976.0 L1626.4,972.4 L1627.2,968.9 L1628.0,965.3 L1628.7,961.7 L1629.5,958.1 L1630.2,954.5 L1630.9,950.9 L1631.7,947.3 L1632.4,943.7 L1633.1,940.1 L1633.8,936.5 L1634.5,932.9 L1635.3,929.3 L1636.0,925.7 L1636.7,922.1 L1637.4,918.5 L1638.0,914.9 L1638.7,911.3 L1639.4,907.7 L1640.1,904.1 L1640.8,900.5 L1641.4,896.9 L1642.1,893.3 L1642.8,889.7 L1643.4,886.1 L1644.1,882.5 L1644.7,878.8 L1645.4,875.2 L1646.0,871.6 L1646.6,868.0 L1647.3,864.4 L1647.9,860.8 L1648.5,857.2 L1649.2,853.5 L1649.8,849.9 L1650.4,846.3 L1651.0,842.7 L1651.6,839.1 L1652.2,835.5 L1652.8,831.8 L1653.4,828.2 L1654.0,824.6 L1654.6,821.0 L1655.2,817.3 L1655.8,813.7 L1656.4,810.1 L1657.0,806.5 L1657.5,802.8 L1658.1,799.2 L1658.7,795.6 L1659.2,792.0 L1659.8,788.3 L1660.4,784.7 L1660.9,781.1 L1661.5,777.4 L1662.1,773.8 L1662.6,770.2 L1663.2,766.5 L1663.7,762.9 L1664.3,759.3 L1664.8,755.7 L1665.3,752.0 L1665.9,748.4 L1666.4,744.7 L1667.0,741.1 L1667.5,737.5 L1668.0,733.8 L1668.6,730.2 L1669.1,726.6 L1669.6,722.9 L1670.1,719.3 L1670.7,715.7 L1671.2,712.0 L1671.7,708.4 L1672.2,704.7 L1672.7,701.1 L1673.2,697.5 L1673.8,693.8 L1674.3,690.2 L1674.8,686.5 L1675.3,682.9 L1675.8,679.3 L1676.3,675.6 L1676.8,672.0 L1677.3,668.3 L1677.8,664.7 L1678.3,661.1 L1678.8,657.4 L1679.3,653.8 L1679.8,650.1 L1680.3,646.5 L1680.8,642.8 L1681.3,639.2 L1681.8,635.5 L1682.3,631.9 L1682.8,628.3 L1683.3,624.6 L1683.8,621.0 L1684.3,617.3 L1684.8,613.7 L1685.3,610.0 L1685.8,606.4 L1686.3,602.7 L1686.7,599.1 L1687.2,595.5 L1687.7,591.8 L1688.2,588.2 L1688.7,584.5 L1689.2,580.9 L1689.7,577.2 L1690.2,573.6 L1690.7,569.9 L1691.2,566.3 L1691.7,562.7 L1692.2,559.0 L1692.7,555.4 L1693.1,551.7 L1693.6,548.1 L1694.1,544.4 L1694.6,540.8 L1695.1,537.1 L1695.6,533.5 L1696.1,529.8 L1696.6,526.2 L1697.1,522.6 L1697.6,518.9 L1698.1,515.3 L1698.6,511.6 L1699.1,508.0 L1699.6,504.3 L1700.1,500.7 L1700.6,497.0 L1701.1,493.4 L1701.6,489.8 L1702.2,486.1 L1702.7,482.5 L1703.2,478.8 L1703.7,475.2 L1704.2,471.6 L1704.7,467.9 L1705.2,464.3 L1705.8,460.6 L1706.3,457.0 L1706.8,453.3 L1707.3,449.7 L1707.8,446.1 L1708.4,442.4 L1708.9,438.8 L1709.4,435.2 L1710.0,431.5 L1710.5,427.9 L1711.0,424.2 L1711.6,420.6 L1712.1,417.0 L1712.7,413.3 L1713.2,409.7 L1713.8,406.1 L1714.3,402.4 L1714.9,398.8 L1715.4,395.2 L1716.0,391.5 L1716.5,387.9 L1717.1,384.3 L1717.7,380.6 L1718.2,377.0 L1718.8,373.4 L1719.4,369.7 L1720.0,366.1 L1720.5,362.5 L1721.1,358.8 L1721.7,355.2 L1722.3,351.6 L1722.9,348.0 L1723.5,344.3 L1724.1,340.7 L1724.7,337.1 L1725.3,333.4 L1725.9,329.8 L1726.5,326.2 L1727.1,322.6 L1727.8,319.0 L1728.4,315.3 L1729.0,311.7 L1729.6,308.1 L1730.3,304.5 L1730.9,300.9 L1731.5,297.2 L1732.2,293.6 L1732.8,290.0 L1733.5,286.4 L1734.1,282.8 L1734.8,279.2 L1735.5,275.5 L1736.1,271.9 L1736.8,268.3 L1737.5,264.7 L1738.2,261.1 L1738.9,257.5 L1739.5,253.9 L1740.2,250.3 L1740.9,246.7 L1741.6,243.1 L1742.3,239.4 L1743.1,235.8 L1743.8,232.2 L1744.5,228.6 L1745.2,225.0 L1746.0,221.4 L1746.7,217.8 L1747.4,214.2 L1748.2,210.6 L1748.9,207.0 L1749.7,203.4 L1750.4,199.8 L1751.2,196.2 L1752.0,192.7 L1752.7,189.1 L1753.5,185.5 L1754.3,181.9 L1755.1,178.3 L1755.9,174.7 L1756.7,171.1 L1757.5,167.5 L1758.3,163.9 L1759.1,160.4 L1760.0,156.8 L1760.8,153.2 L1761.6,149.6 L1762.5,146.0 L1763.3,142.5 L1764.2,138.9 L1765.0,135.3 L1765.9,131.7 L1766.8,128.1 L1767.7,124.6 L1768.5,121.0 L1769.4,117.4" fill="none" stroke="#2d78a8" stroke-width="4.1" stroke-linejoin="round" stroke-linecap="butt"/>
<rect x="302.5" y="92.6" width="1469.5" height="1335.4" fill="none" stroke="#0a0a0a" stroke-width="5"/>
<line x1="1303.5" y1="1115.5" x2="1372" y2="1208" stroke="#a67fd2" stroke-width="3"/>
<polygon points="1359.3,1214.2 1381.4,1198.9 1386,1228.6" fill="#8a3cc0"/>
<text transform="translate(207.1,109.5) scale(0.95,1)" text-anchor="middle" font-family="Liberation Serif, Times New Roman, serif" font-size="65" fill="#000">100</text>
<text transform="translate(227.2,371.6) scale(0.95,1)" text-anchor="middle" font-family="Liberation Serif, Times New Roman, serif" font-size="65" fill="#000">80</text>
<text transform="translate(228.9,643.7) scale(0.95,1)" text-anchor="middle" font-family="Liberation Serif, Times New Roman, serif" font-size="65" fill="#000">60</text>
<text transform="translate(226.9,912.5) scale(0.95,1)" text-anchor="middle" font-family="Liberation Serif, Times New Roman, serif" font-size="65" fill="#000">40</text>
<text transform="translate(225.6,1182.2) scale(0.95,1)" text-anchor="middle" font-family="Liberation Serif, Times New Roman, serif" font-size="65" fill="#000">20</text>
<text transform="translate(210.6,1442.1) scale(0.95,1)" text-anchor="middle" font-family="Liberation Serif, Times New Roman, serif" font-size="65" fill="#000">0</text>
<text transform="translate(309.6,1482.9) scale(0.95,1)" text-anchor="middle" font-family="Liberation Serif, Times New Roman, serif" font-size="65" fill="#000">0.0</text>
<text transform="translate(593.9,1482.8) scale(0.95,1)" text-anchor="middle" font-family="Liberation Serif, Times New Roman, serif" font-size="65" fill="#000">0.2</text>
<text transform="translate(884.0,1482.8) scale(0.95,1)" text-anchor="middle" font-family="Liberation Serif, Times New Roman, serif" font-size="65" fill="#000">0.4</text>
<text transform="translate(1183.3,1482.8) scale(0.95,1)" text-anchor="middle" font-family="Liberation Serif, Times New Roman, serif" font-size="65" fill="#000">0.6</text>
<text transform="translate(1482.6,1482.6) scale(0.95,1)" text-anchor="middle" font-family="Liberation Serif, Times New Roman, serif" font-size="65" fill="#000">0.8</text>
<text transform="translate(1773.3,1482.7) scale(0.95,1)" text-anchor="middle" font-family="Liberation Serif, Times New Roman, serif" font-size="65" fill="#000">1.0</text>
<text transform="translate(1039.8,1544.6) skewX(-7)" text-anchor="middle" font-family="Liberation Serif, Times New Roman, serif" font-size="66" fill="#000">α</text>
<text transform="translate(122.8,667.9) rotate(-90) scale(1,0.94)" text-anchor="middle" font-family="Liberation Serif, Times New Roman, serif" font-size="65" fill="#000">Weight %</text>
<text x="379.0" y="193.0" font-family="Liberation Serif, Times New Roman, serif" font-size="65" fill="#000">C<tspan font-size="41" dy="14" dx="-0.5" letter-spacing="-0.8">1</tspan></text>
<text x="942.2" y="614.5" font-family="Liberation Serif, Times New Roman, serif" font-size="65" fill="#000">C<tspan font-size="41" dy="14" dx="-0.5" letter-spacing="-0.8">2-4</tspan></text>
<text x="1353.7" y="745.5" font-family="Liberation Serif, Times New Roman, serif" font-size="65" fill="#000">C<tspan font-size="41" dy="14" dx="-0.5" letter-spacing="-0.8">5-11</tspan></text>
<text x="1212.4" y="1060.3" font-family="Liberation Serif, Times New Roman, serif" font-size="65" fill="#000">C<tspan font-size="41" dy="14" dx="-0.5" letter-spacing="-0.8">12-20</tspan></text>
<text x="1567.1" y="322.8" font-family="Liberation Serif, Times New Roman, serif" font-size="65" fill="#000">C<tspan font-size="41" dy="14" dx="-0.5" letter-spacing="-0.8">20+</tspan></text>
</g>
<rect x="38.9" y="24" width="1816.4" height="1579.6" fill="none" stroke="#000" stroke-width="7.8" rx="1.2"/>
</svg>
</body></html>
